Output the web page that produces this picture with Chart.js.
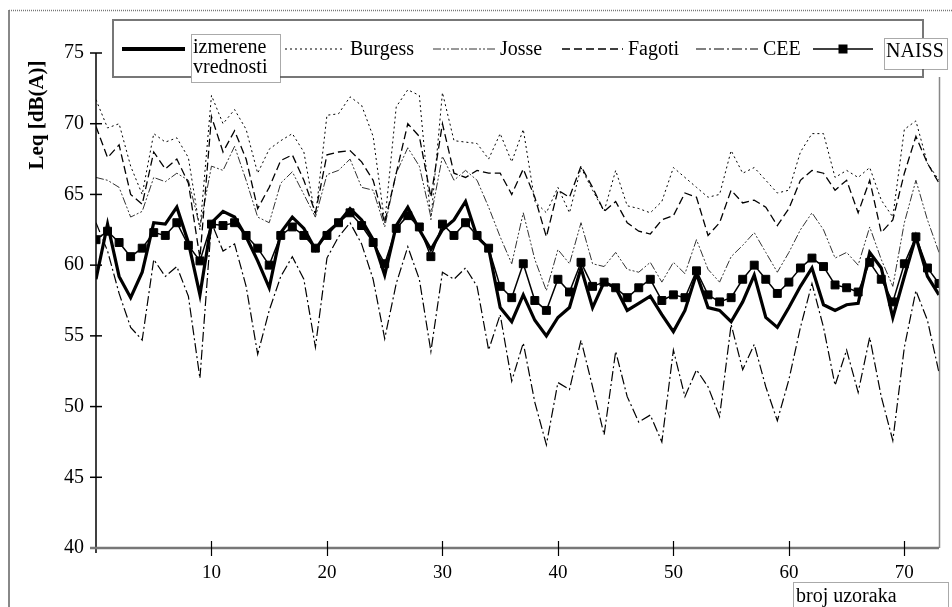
<!DOCTYPE html>
<html>
<head>
<meta charset="utf-8">
<script src="https://cdn.jsdelivr.net/npm/chart.js@4.4.0/dist/chart.umd.min.js"></script>
<style>
  html, body { margin: 0; padding: 0; background: #fff; }
  #wrap { width: 952px; height: 607px; }
</style>
</head>
<body>
<div id="wrap"><canvas id="leqChart" width="952" height="607"></canvas></div>
<script>
// broj uzoraka (x)
const samples = [0,1,2,3,4,5,6,7,8,9,10,11,12,13,14,15,16,17,18,19,20,21,22,23,24,25,26,27,28,29,30,31,32,33,34,35,36,
  37,38,39,40,41,42,43,44,45,46,47,48,49,50,51,52,53,54,55,56,57,58,59,60,61,62,63,64,65,66,67,68,69,70,71,72,73];

const izmerene = [59.0,62.9,59.2,57.7,59.5,63.0,62.9,64.1,61.6,57.9,63.0,63.8,63.4,62.0,60.3,
  58.4,62.3,63.4,62.6,61.1,62.3,63.0,64.0,63.2,61.8,59.3,62.8,64.1,62.5,61.1,
  62.5,63.2,64.5,62.0,61.2,57.0,56.0,57.9,56.1,55.0,56.3,57.0,59.8,57.0,
  58.8,58.4,56.8,57.3,57.8,56.5,55.3,56.8,59.4,57.0,56.8,56.0,57.4,59.3,56.3,
  55.6,57.0,58.5,59.8,57.2,56.8,57.2,57.3,60.9,59.8,56.3,59.2,62.0,59.2,57.9];

const burgess = [71.7,69.7,70.0,67.0,65.0,69.3,68.7,69.0,67.6,62.5,72.0,70.0,71.0,69.6,66.5,
  68.2,68.8,69.3,68.0,63.4,70.6,70.7,71.9,71.3,69.1,63.0,71.2,72.4,72.0,63.2,
  72.2,68.8,68.7,68.6,67.5,69.3,67.3,69.6,64.5,63.7,65.5,63.7,66.9,65.3,
  63.8,66.7,64.2,64.0,63.7,64.5,66.9,66.2,65.5,64.8,65.0,68.1,66.5,66.9,66.0,
  65.1,65.3,68.0,69.3,69.3,66.2,66.7,66.2,66.9,64.6,63.4,69.6,70.2,67.2,66.0];

const josse = [66.2,66.0,65.5,63.4,63.8,66.2,65.9,66.5,66.0,62.7,67.0,66.7,68.4,66.0,63.4,
  63.0,65.8,66.6,65.0,63.4,66.4,66.7,67.5,65.5,65.3,62.7,66.5,68.3,67.0,63.4,
  67.7,66.0,66.7,66.0,64.1,62.0,60.1,63.7,60.4,58.2,61.1,60.1,63.0,60.1,
  59.9,60.9,59.7,59.5,60.2,58.8,60.2,59.4,61.8,59.7,58.8,60.6,61.4,62.3,60.9,
  59.5,60.9,62.5,63.7,62.5,60.5,60.9,60.0,62.7,60.4,58.5,63.0,66.0,63.2,60.9];

const fagoti = [69.8,67.6,68.5,65.0,64.3,68.0,66.8,67.5,65.8,60.5,70.5,68.0,69.5,67.5,64.0,
  65.5,67.4,67.8,66.0,63.7,67.8,68.0,68.1,67.3,66.0,63.0,66.5,70.0,69.1,64.8,
  70.0,66.5,66.2,66.7,66.5,66.5,65.0,66.8,64.8,62.0,65.3,64.8,67.0,65.5,
  63.8,64.5,63.0,62.4,62.2,63.2,63.5,65.1,64.8,62.1,63.0,65.3,64.4,64.6,64.1,
  62.8,64.0,66.0,66.7,66.5,65.3,66.0,63.7,66.0,62.3,63.2,66.5,69.1,67.2,65.8];

const cee = [63.0,61.0,58.0,55.6,54.7,60.4,59.2,59.9,57.8,52.0,63.0,61.0,61.5,58.5,53.7,
  56.8,59.2,60.6,59.0,54.2,60.5,62.0,63.0,61.5,59.0,54.8,58.7,61.3,59.0,53.9,
  59.5,59.0,59.8,58.5,54.0,56.5,51.8,54.5,50.3,47.3,51.7,51.2,54.7,51.4,
  48.0,53.9,50.7,48.9,49.4,47.5,54.0,50.7,52.6,51.4,49.3,55.8,52.6,54.4,51.4,
  49.0,51.9,55.6,58.7,55.6,51.5,54.0,51.0,54.9,50.7,47.6,54.2,58.2,56.1,52.4];

const naiss = [61.8,62.4,61.6,60.6,61.2,62.3,62.1,63.0,61.4,60.3,62.9,62.8,63.0,62.1,61.2,
  60.0,62.1,62.7,62.1,61.2,62.1,63.0,63.7,62.8,61.6,60.1,62.6,63.5,62.7,60.6,
  62.9,62.1,63.0,62.1,61.2,58.5,57.7,60.1,57.5,56.8,59.0,58.1,60.2,58.5,
  58.8,58.4,57.7,58.4,59.0,57.5,57.9,57.7,59.6,57.9,57.4,57.7,59.0,60.0,59.0,
  58.0,58.8,59.8,60.5,59.9,58.6,58.4,58.1,60.2,59.0,57.4,60.1,62.0,59.8,58.7];

const yTicks = [40, 45, 50, 55, 60, 65, 70, 75];
const xTicks = [10, 20, 30, 40, 50, 60, 70];

const serif = '"Liberation Serif", "Times New Roman", serif';

function pts(values) {
  return values.map((v, i) => ({ x: samples[i], y: v }));
}

const datasets = [
  { label: 'izmerene vrednosti', data: pts(izmerene), borderColor: '#000', borderWidth: 3.2, pointRadius: 0, order: 0 },
  { label: 'Burgess', data: pts(burgess), borderColor: '#000', borderWidth: 1, borderDash: [2, 3], pointRadius: 0, order: 5 },
  { label: 'Josse', data: pts(josse), borderColor: '#333', borderWidth: 1, borderDash: [8, 2, 2, 2, 2, 2], pointRadius: 0, order: 4 },
  { label: 'Fagoti', data: pts(fagoti), borderColor: '#000', borderWidth: 1.3, borderDash: [8, 4], pointRadius: 0, order: 3 },
  { label: 'CEE', data: pts(cee), borderColor: '#000', borderWidth: 1.2, borderDash: [10, 3, 2, 3], pointRadius: 0, order: 2 },
  { label: 'NAISS', data: pts(naiss), borderColor: '#000', borderWidth: 1.5, pointStyle: 'rect', pointRadius: 5.6,
    pointBackgroundColor: '#000', pointBorderColor: '#000', pointBorderWidth: 1, order: 1 }
];

// legend, axes lines, frames and titles
const decor = {
  id: 'decor',
  afterDraw(chart) {
    const ctx = chart.ctx;
    const xs = chart.scales.x, ys = chart.scales.y;
    const area = chart.chartArea;
    const x0 = xs.getPixelForValue(0);
    const yb = ys.getPixelForValue(40);
    const yt = ys.getPixelForValue(75);
    const ds = chart.data.datasets;
    ctx.save();

    // outer frame
    ctx.strokeStyle = '#888'; ctx.lineWidth = 2;
    ctx.beginPath(); ctx.moveTo(9, 10); ctx.lineTo(9, 607); ctx.stroke();
    ctx.setLineDash([1, 1]); ctx.lineWidth = 1.5; ctx.strokeStyle = '#777';
    ctx.beginPath(); ctx.moveTo(9, 10.5); ctx.lineTo(952, 10.5); ctx.stroke();
    ctx.setLineDash([]);

    // right border of plot
    ctx.strokeStyle = '#888'; ctx.lineWidth = 1.5;
    ctx.beginPath(); ctx.moveTo(area.right + 0.5, 77); ctx.lineTo(area.right + 0.5, yb); ctx.stroke();

    // y axis
    ctx.strokeStyle = '#000'; ctx.lineWidth = 1.5;
    ctx.beginPath(); ctx.moveTo(x0, yt); ctx.lineTo(x0, yb + 5); ctx.stroke();
    yTicks.forEach(v => {
      const y = ys.getPixelForValue(v);
      ctx.beginPath(); ctx.moveTo(x0 - 6, y); ctx.lineTo(x0 + 6, y); ctx.stroke();
    });

    // x axis
    ctx.strokeStyle = '#777'; ctx.lineWidth = 2.5;
    ctx.beginPath(); ctx.moveTo(x0 - 6, yb); ctx.lineTo(area.right, yb); ctx.stroke();
    ctx.strokeStyle = '#000'; ctx.lineWidth = 1.2;
    xTicks.forEach(v => {
      const x = Math.round(xs.getPixelForValue(v)) + 0.5;
      ctx.beginPath(); ctx.moveTo(x, yb - 7); ctx.lineTo(x, yb + 8); ctx.stroke();
    });

    // legend box
    ctx.strokeStyle = '#777'; ctx.lineWidth = 2;
    ctx.strokeRect(113, 20, 810, 57);

    const ly = 49;
    const items = [
      { i: 0, a: 122, b: 185, tx: 193 },
      { i: 1, a: 285, b: 342, tx: 350 },
      { i: 2, a: 433, b: 495, tx: 500 },
      { i: 3, a: 562, b: 623, tx: 628 },
      { i: 4, a: 696, b: 758, tx: 763 },
      { i: 5, a: 813, b: 873, tx: 888 }
    ];
    ctx.font = '20px ' + serif;
    ctx.textBaseline = 'alphabetic';
    ctx.textAlign = 'left';
    items.forEach(it => {
      const d = ds[it.i];
      ctx.strokeStyle = d.borderColor;
      ctx.lineWidth = it.i === 0 ? 4 : d.borderWidth;
      ctx.setLineDash(d.borderDash || []);
      ctx.beginPath(); ctx.moveTo(it.a, ly); ctx.lineTo(it.b, ly); ctx.stroke();
      ctx.setLineDash([]);
      if (it.i === 5) {
        ctx.fillStyle = '#000';
        ctx.fillRect((it.a + it.b) / 2 - 4.5, ly - 4.5, 9, 9);
      }
    });

    // label boxes
    function dottedBox(x, y, w, h) {
      ctx.fillStyle = '#fff';
      ctx.fillRect(x, y, w, h);
      ctx.strokeStyle = '#555'; ctx.lineWidth = 1; ctx.setLineDash([1, 1]);
      ctx.strokeRect(x + 0.5, y + 0.5, w, h);
      ctx.setLineDash([]);
    }
    dottedBox(191, 34, 89, 48);
    dottedBox(884, 38, 63, 31);

    ctx.fillStyle = '#000';
    ctx.fillText('izmerene', 193, 53);
    ctx.fillText('vrednosti', 193, 73);
    ctx.fillText(ds[1].label, 350, 55);
    ctx.fillText(ds[2].label, 500, 55);
    ctx.fillText(ds[3].label, 628, 55);
    ctx.fillText(ds[4].label, 763, 55);
    ctx.fillText(ds[5].label, 886, 57);

    // x title
    dottedBox(793, 582, 155, 26);
    ctx.fillStyle = '#000';
    ctx.fillText('broj uzoraka', 796, 602);

    // y title
    ctx.save();
    ctx.translate(38, 115);
    ctx.rotate(-Math.PI / 2);
    ctx.textAlign = 'center';
    ctx.textBaseline = 'middle';
    ctx.font = 'bold 21px ' + serif;
    ctx.fillText('Leq [dB(A)]', 0, 0);
    ctx.restore();

    ctx.restore();
  }
};

const chart = new Chart(document.getElementById('leqChart'), {
  type: 'line',
  data: { datasets: datasets },
  options: {
    responsive: false,
    devicePixelRatio: 1,
    animation: false,
    layout: { padding: { top: 53, right: 13, left: 0, bottom: 0 }, autoPadding: false },
    plugins: { legend: { display: false }, tooltip: { enabled: false } },
    elements: { line: { tension: 0, fill: false } },
    scales: {
      x: {
        type: 'linear',
        min: 0,
        max: 73,
        afterBuildTicks: s => { s.ticks = xTicks.map(v => ({ value: v })); },
        afterFit: s => { s.height = 59; },
        grid: { display: false, drawTicks: false },
        border: { display: false },
        ticks: { color: '#000', font: { family: serif, size: 19 }, padding: 14, maxRotation: 0, autoSkip: false }
      },
      y: {
        min: 40,
        max: 75,
        afterBuildTicks: s => { s.ticks = yTicks.map(v => ({ value: v })); },
        afterFit: s => { s.width = 96; },
        grid: { display: false, drawTicks: false },
        border: { display: false },
        ticks: { color: '#000', font: { family: serif, size: 20 }, padding: 12 }
      }
    }
  },
  plugins: [decor]
});
</script>
</body>
</html>
